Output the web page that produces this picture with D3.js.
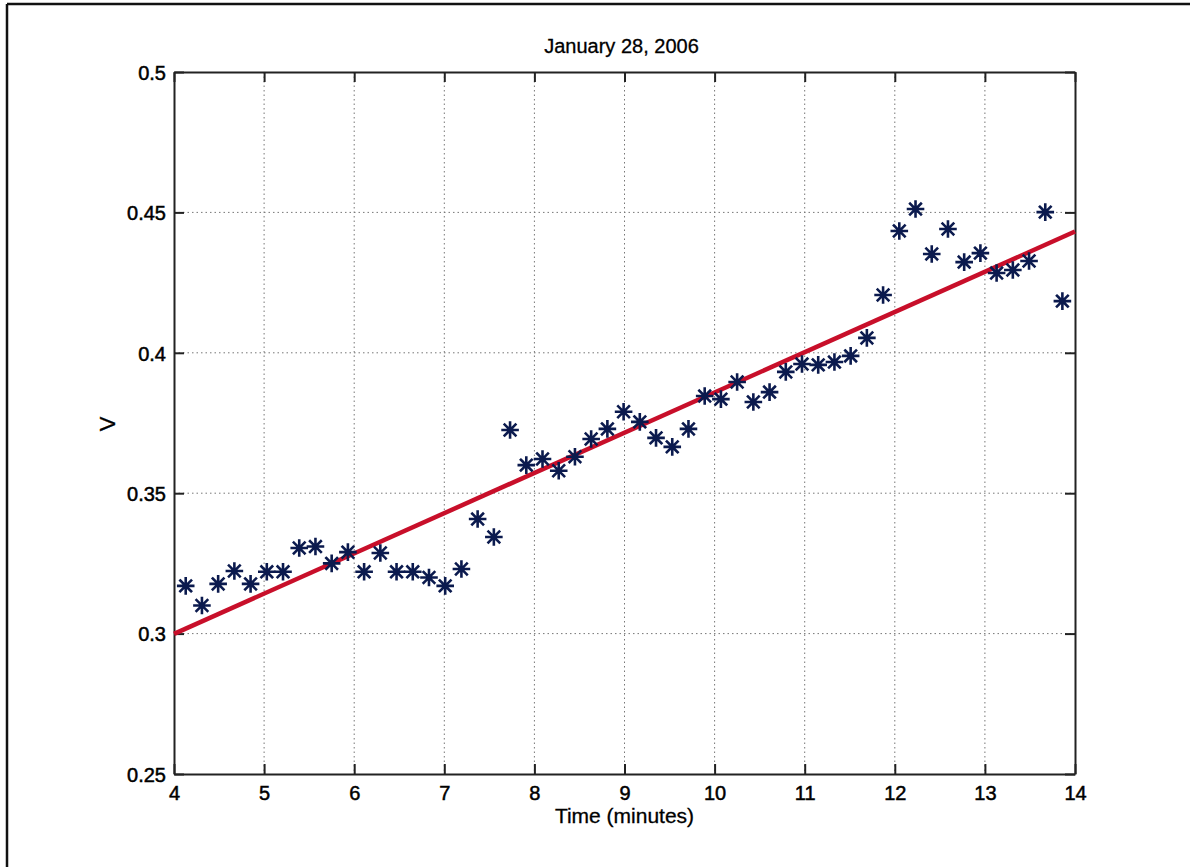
<!DOCTYPE html>
<html>
<head>
<meta charset="utf-8">
<script src="https://cdn.jsdelivr.net/npm/d3@7"></script>
<style>
  html, body { margin: 0; padding: 0; background: #fff; }
  svg { display: block; font-family: "Liberation Sans", Arial, sans-serif; }
</style>
</head>
<body>
<svg id="chart" width="1190" height="867"></svg>
<script>
// Sample times (minutes) and measured voltage
const times = [4.13, 4.31, 4.49, 4.67, 4.85, 5.03, 5.21, 5.39, 5.57, 5.75,
  5.93, 6.11, 6.29, 6.47, 6.65, 6.83, 7.01, 7.19, 7.37, 7.55,
  7.73, 7.91, 8.09, 8.27, 8.45, 8.63, 8.81, 8.99, 9.17, 9.35,
  9.53, 9.71, 9.89, 10.07, 10.25, 10.43, 10.61, 10.79, 10.97, 11.15,
  11.33, 11.51, 11.69, 11.87, 12.05, 12.23, 12.41, 12.59, 12.77, 12.95,
  13.13, 13.31, 13.49, 13.67, 13.86];
const voltage = [0.317, 0.310, 0.3177, 0.3223, 0.3177, 0.322, 0.322, 0.3305, 0.331, 0.325,
  0.329, 0.322, 0.3287, 0.322, 0.322, 0.320, 0.317, 0.323, 0.3408, 0.3344,
  0.3725, 0.360, 0.3622, 0.358, 0.363, 0.3693, 0.3729, 0.379, 0.3754, 0.3697,
  0.3665, 0.3729, 0.3846, 0.3835, 0.3896, 0.3825, 0.386, 0.3932, 0.396, 0.3957,
  0.3967, 0.3989, 0.4053, 0.4206, 0.4434, 0.4512, 0.4352, 0.4441, 0.4323, 0.4355,
  0.4284, 0.4295, 0.4327, 0.4501, 0.4184];

// Linear fit drawn across the axis range
const fitTimes = [4, 14];
const fitValues = [0.2999, 0.4432];

const xTicks = [4, 5, 6, 7, 8, 9, 10, 11, 12, 13, 14];
const yTicks = [0.25, 0.3, 0.35, 0.4, 0.45, 0.5];
const yTickLabels = ["0.25", "0.3", "0.35", "0.4", "0.45", "0.5"];

const titleText = "January 28, 2006";
const xLabelText = "Time (minutes)";
const yLabelText = "V";

const svg = d3.select("#chart");
const plot = { left: 174, right: 1075, top: 72, bottom: 774 };

const x = d3.scaleLinear().domain([4, 14]).range([plot.left, plot.right]);
const y = d3.scaleLinear().domain([0.25, 0.5]).range([plot.bottom, plot.top]);

// Figure frame (top and left edges)
svg.append("line").attr("x1", 7).attr("x2", 1190).attr("y1", 4).attr("y2", 4)
  .attr("stroke", "#111").attr("stroke-width", 2.5);
svg.append("line").attr("x1", 7).attr("x2", 7).attr("y1", 4).attr("y2", 867)
  .attr("stroke", "#111").attr("stroke-width", 2.5);

// Grid
const grid = svg.append("g").attr("stroke", "#777").attr("stroke-width", 1)
  .attr("stroke-dasharray", "1.5,3");
grid.selectAll(".gx").data(xTicks.slice(1, -1)).join("line")
  .attr("x1", d => x(d)).attr("x2", d => x(d))
  .attr("y1", plot.top).attr("y2", plot.bottom);
grid.selectAll(".gy").data(yTicks.slice(1, -1)).join("line")
  .attr("x1", plot.left).attr("x2", plot.right)
  .attr("y1", d => y(d)).attr("y2", d => y(d));

// Axes with inward ticks, labels on bottom and left
const axisColor = "#222";
const tickLen = 10;
const fmtY = d => yTickLabels[yTicks.indexOf(d)];

const gBottom = svg.append("g").attr("transform", `translate(0,${plot.bottom})`)
  .call(d3.axisBottom(x).tickValues(xTicks).tickSizeInner(-tickLen).tickSizeOuter(0).tickPadding(12));
const gLeft = svg.append("g").attr("transform", `translate(${plot.left},0)`)
  .call(d3.axisLeft(y).tickValues(yTicks).tickFormat(fmtY).tickSizeInner(-tickLen).tickSizeOuter(0).tickPadding(8));
const gTop = svg.append("g").attr("transform", `translate(0,${plot.top})`)
  .call(d3.axisTop(x).tickValues(xTicks).tickSizeInner(-tickLen).tickSizeOuter(0).tickFormat(""));
const gRight = svg.append("g").attr("transform", `translate(${plot.right},0)`)
  .call(d3.axisRight(y).tickValues(yTicks).tickSizeInner(-tickLen).tickSizeOuter(0).tickFormat(""));

[gBottom, gLeft, gTop, gRight].forEach(g => {
  g.selectAll(".domain").attr("stroke", axisColor).attr("stroke-width", 2);
  g.selectAll(".tick line").attr("stroke", axisColor).attr("stroke-width", 2);
  g.selectAll(".tick text").attr("fill", "#000")
    .attr("stroke", "#000").attr("stroke-width", 0.5)
    .style("font-family", "'Liberation Sans', Arial, sans-serif")
    .style("font-size", "20px");
});
gLeft.selectAll(".tick text").attr("dy", "0.36em");
gBottom.selectAll(".tick text").attr("dy", "0.72em");

// Fit line
svg.append("path")
  .datum(fitTimes.map((t, i) => [t, fitValues[i]]))
  .attr("d", d3.line().x(d => x(d[0])).y(d => y(d[1])))
  .attr("fill", "none").attr("stroke", "#c80f2a").attr("stroke-width", 4.5);

// Asterisk markers
const r = 7.5;
const starPath = [
  `M${-r},0L${r},0`, `M0,${-r}L0,${r}`,
  `M${-r * 0.72},${-r * 0.72}L${r * 0.72},${r * 0.72}`,
  `M${-r * 0.72},${r * 0.72}L${r * 0.72},${-r * 0.72}`
].join("");
svg.append("g").selectAll("path").data(times.map((t, i) => [t, voltage[i]])).join("path")
  .attr("transform", d => `translate(${x(d[0])},${y(d[1])})`)
  .attr("d", starPath)
  .attr("stroke", "#0b1a4e").attr("stroke-width", 2.6).attr("stroke-linecap", "square")
  .attr("fill", "none");

// Titles
svg.append("text").attr("x", (plot.left + plot.right) / 2 - 3).attr("y", 53)
  .attr("text-anchor", "middle").style("font-size", "20px").attr("fill", "#000")
  .attr("stroke", "#000").attr("stroke-width", 0.3)
  .text(titleText);
svg.append("text").attr("x", (plot.left + plot.right) / 2).attr("y", 823)
  .attr("text-anchor", "middle").style("font-size", "21px").attr("fill", "#000")
  .attr("stroke", "#000").attr("stroke-width", 0.3)
  .text(xLabelText);
svg.append("text").attr("transform", "translate(115,424) rotate(-90)")
  .attr("text-anchor", "middle").style("font-size", "22px").attr("fill", "#000")
  .attr("stroke", "#000").attr("stroke-width", 0.3)
  .text(yLabelText);
</script>
</body>
</html>
